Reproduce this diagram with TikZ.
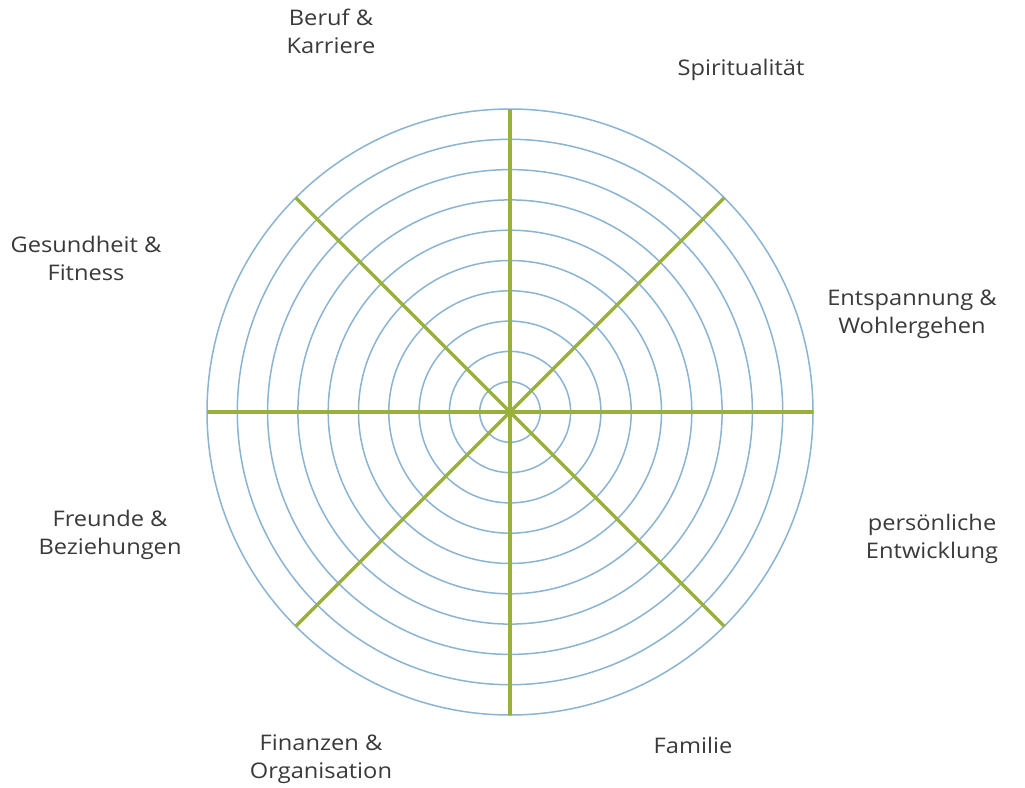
\documentclass[tikz,border=0pt]{standalone}
\usepackage{fontspec}
\setmainfont{Open Sans}[FakeStretch=1.1]
\definecolor{ringblue}{HTML}{8AB4D2}
\definecolor{spokegreen}{HTML}{9AB03C}
\definecolor{txt}{HTML}{3A3A3A}
\begin{document}
\begin{tikzpicture}[x=1pt,y=-1pt,
  ring/.style={draw=ringblue,line width=1.5pt},
  spoke/.style={draw=spokegreen,line width=3.2pt},
  lab/.style={text=txt,font=\fontsize{21.5}{28}\selectfont,align=center,inner sep=0pt}]
\useasboundingbox (0,0) rectangle (1025,787);
\fill[white] (0,0) rectangle (1025,787);
\coordinate (c) at (510,412);
\foreach \k in {1,...,10}{
  \draw[ring] (c) circle[radius=\k*30.3];
}
\foreach \a in {0,45,...,315}{
  \draw[spoke] (c) -- ++(\a:303);
}
\node[lab] (beruf) at (331,31) {Beruf \&\\Karriere};
\node[lab] (spirit) at (741,70) {Spiritualität};
\node[lab] (gesund) at (86,258) {Gesundheit \&\\Fitness};
\node[lab] (entsp) at (912,314) {Entspannung \&\\Wohlergehen};
\node[lab] (freunde) at (110,535) {Freunde \&\\Beziehungen};
\node[lab] (pers) at (932,539) {persönliche\\Entwicklung};
\node[lab] (finanz) at (321,759) {Finanzen \&\\Organisation};
\node[lab] (familie) at (693,745) {Familie};
\end{tikzpicture}
\end{document}
